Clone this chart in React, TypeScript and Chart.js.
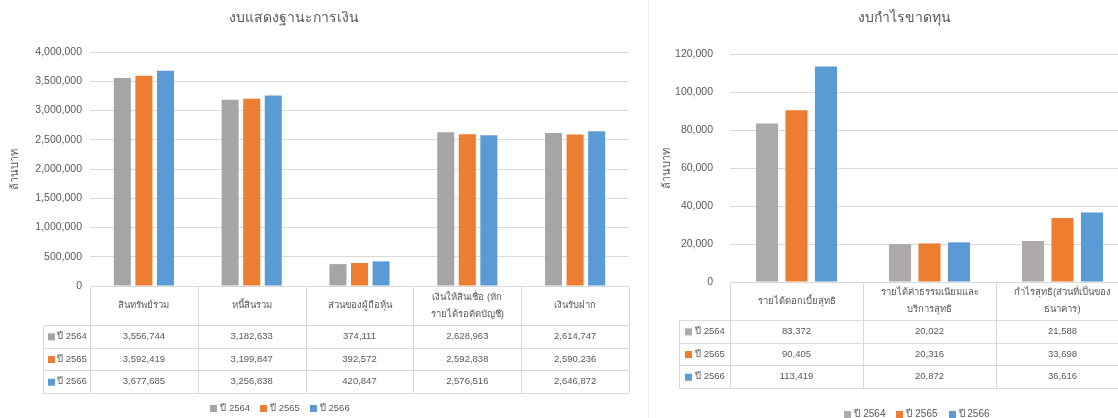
import React, { useEffect, useRef } from 'react';
import { Chart, registerables } from 'chart.js';

Chart.register(...registerables);

// ---------- data ----------
const seriesLabels = ['ปี 2564', 'ปี 2565', 'ปี 2566'];

const balanceTitle = 'งบแสดงฐานะการเงิน';
const balanceCategories = [
  ['สินทรัพย์รวม'],
  ['หนี้สินรวม'],
  ['ส่วนของผู้ถือหุ้น'],
  ['เงินให้สินเชื่อ (หัก', 'รายได้รอตัดบัญชี)'],
  ['เงินรับฝาก'],
];
const balance2564 = [3556744, 3182633, 374111, 2628963, 2614747];
const balance2565 = [3592419, 3199847, 392572, 2592838, 2590236];
const balance2566 = [3677685, 3256838, 420847, 2576516, 2646872];
const balanceTicks = [0, 500000, 1000000, 1500000, 2000000, 2500000, 3000000, 3500000, 4000000];

const incomeTitle = 'งบกำไรขาดทุน';
const incomeCategories = [
  ['รายได้ดอกเบี้ยสุทธิ'],
  ['รายได้ค่าธรรมเนียมและ', 'บริการสุทธิ'],
  ['กำไรสุทธิ(ส่วนที่เป็นของ', 'ธนาคาร)'],
];
const income2564 = [83372, 20022, 21588];
const income2565 = [90405, 20316, 33698];
const income2566 = [113419, 20872, 36616];
const incomeTicks = [0, 20000, 40000, 60000, 80000, 100000, 120000];

const yAxisTitle = 'ล้านบาท';

// ---------- styles ----------
const FONT = "'Liberation Sans', Arial, 'Noto Sans', 'DejaVu Sans', sans-serif";
const TEXT = '#595959';
const GRID = '#D9D9D9';
const ORANGE = '#ED7D31';
const BLUE = '#5B9BD5';

const fmt = (v: number) => v.toLocaleString('en-US');

const excelPlugin = {
  id: 'excelTable',
  afterDraw(chart: any, _args: any, opts: any) {
    const ctx: CanvasRenderingContext2D = chart.ctx;
    const area = chart.chartArea;
    const xs = chart.scales.x;
    const n = chart.data.labels.length;
    const binW = (area.right - area.left) / n;
    const top = area.bottom;
    const hdrBottom = top + opts.headerHeight;
    const rows = chart.data.datasets.length;
    const tableBottom = hdrBottom + rows * opts.rowHeight;
    const r = (v: number) => Math.round(v) + 0.5;
    const line = (x1: number, y1: number, x2: number, y2: number) => {
      ctx.beginPath();
      ctx.moveTo(x1, y1);
      ctx.lineTo(x2, y2);
      ctx.stroke();
    };
    ctx.save();
    ctx.strokeStyle = GRID;
    ctx.lineWidth = 1;
    line(area.left, r(top), area.right, r(top));
    for (let k = 0; k <= rows; k++) {
      const y = r(hdrBottom + k * opts.rowHeight);
      line(opts.rowLabelLeft, y, area.right, y);
    }
    for (let i = 0; i <= n; i++) {
      const x = r(area.left + i * binW);
      line(x, top, x, tableBottom);
    }
    line(r(opts.rowLabelLeft), hdrBottom, r(opts.rowLabelLeft), tableBottom);

    // header
    ctx.fillStyle = TEXT;
    ctx.textBaseline = 'middle';
    ctx.textAlign = 'center';
    ctx.font = `${opts.cellFont}px ${FONT}`;
    const mid = (top + hdrBottom) / 2;
    chart.data.labels.forEach((lab: any, i: number) => {
      const cx = xs.getPixelForValue(i);
      const lines = Array.isArray(lab) ? lab : [lab];
      lines.forEach((t: string, j: number) => {
        ctx.fillText(t, cx, mid + (j - (lines.length - 1) / 2) * opts.lineSpacing);
      });
    });

    // rows
    chart.data.datasets.forEach((ds: any, k: number) => {
      const cy = hdrBottom + (k + 0.5) * opts.rowHeight;
      ctx.fillStyle = TEXT;
      ctx.textAlign = 'center';
      ds.data.forEach((v: number, i: number) => {
        ctx.fillText(fmt(v), xs.getPixelForValue(i), cy);
      });
      ctx.fillStyle = ds.backgroundColor;
      ctx.fillRect(opts.rowLabelLeft + opts.boxOffset, cy - 3, 7, 7);
      ctx.fillStyle = TEXT;
      ctx.textAlign = 'left';
      ctx.fillText(ds.label, opts.rowLabelLeft + opts.textOffset, cy);
    });

    // title
    ctx.font = `${opts.titleFont}px ${FONT}`;
    ctx.textAlign = 'center';
    ctx.fillStyle = TEXT;
    ctx.fillText(opts.title, opts.titleX, opts.titleY);

    // legend
    ctx.font = `${opts.legendFont}px ${FONT}`;
    const items = chart.data.datasets.map((ds: any) => ({
      color: ds.backgroundColor,
      label: ds.label,
      w: 7 + 3 + ctx.measureText(ds.label).width,
    }));
    const gap = opts.legendGap;
    const total = items.reduce((s: number, it: any) => s + it.w, 0) + gap * (items.length - 1);
    let x = opts.legendX - total / 2;
    ctx.textAlign = 'left';
    items.forEach((it: any) => {
      ctx.fillStyle = it.color;
      ctx.fillRect(Math.round(x), Math.round(opts.legendY - 3), 7, 7);
      ctx.fillStyle = TEXT;
      ctx.fillText(it.label, x + 10, opts.legendY);
      x += it.w + gap;
    });
    ctx.restore();
  },
};

function makeConfig(p: any) {
  return {
    type: 'bar',
    data: {
      labels: p.categories,
      datasets: p.series.map((d: number[], i: number) => ({
        label: seriesLabels[i],
        data: d,
        backgroundColor: p.colors[i],
        categoryPercentage: p.catPct,
        barPercentage: p.barPct,
      })),
    },
    plugins: [excelPlugin],
    options: {
      responsive: false,
      animation: false,
      events: [],
      layout: { padding: p.padding },
      plugins: {
        legend: { display: false },
        title: { display: false },
        tooltip: { enabled: false },
        excelTable: p.table,
      },
      scales: {
        x: { display: false },
        y: {
          min: 0,
          max: p.ticks[p.ticks.length - 1],
          afterBuildTicks: (s: any) => {
            s.ticks = p.ticks.map((v: number) => ({ value: v }));
          },
          afterFit: (s: any) => {
            s.width = p.axisWidth;
          },
          border: { display: false },
          grid: { color: GRID, drawTicks: false, lineWidth: 1 },
          ticks: {
            color: TEXT,
            padding: p.tickPad,
            font: { family: FONT, size: 10.5 },
            callback: (v: any) => fmt(Number(v)),
          },
          title: {
            display: true,
            text: yAxisTitle,
            color: TEXT,
            font: { family: FONT, size: 11 },
            padding: { top: p.titlePad, bottom: 0 },
          },
        },
      },
    },
  };
}

function ChartCanvas({ config, width, left }: { config: any; width: number; left: number }) {
  const ref = useRef<HTMLCanvasElement | null>(null);
  useEffect(() => {
    if (!ref.current) return;
    const chart = new Chart(ref.current, config);
    return () => chart.destroy();
  }, [config]);
  return (
    <canvas
      ref={ref}
      width={width}
      height={418}
      style={{ position: 'absolute', left, top: 0, width, height: 418 }}
    />
  );
}

const balanceConfig = makeConfig({
  categories: balanceCategories,
  series: [balance2564, balance2565, balance2566],
  colors: ['#A5A5A5', ORANGE, BLUE],
  ticks: balanceTicks,
  catPct: 0.6,
  barPct: 0.79,
  padding: { top: 52, bottom: 132, left: 0, right: 11 },
  axisWidth: 90,
  tickPad: 8,
  titlePad: 8,
  table: {
    headerHeight: 39,
    rowHeight: 22.7,
    rowLabelLeft: 43,
    boxOffset: 5,
    textOffset: 14,
    cellFont: 9.5,
    lineSpacing: 17,
    title: balanceTitle,
    titleFont: 14,
    titleX: 294,
    titleY: 18,
    legendFont: 9.5,
    legendX: 280,
    legendY: 408,
    legendGap: 10,
  },
});

const incomeConfig = makeConfig({
  categories: incomeCategories,
  series: [income2564, income2565, income2566],
  colors: ['#AEAAAA', ORANGE, BLUE],
  ticks: incomeTicks,
  catPct: 0.665,
  barPct: 0.75,
  padding: { top: 54, bottom: 136, left: 0, right: 31 },
  axisWidth: 90,
  tickPad: 17,
  titlePad: 20,
  table: {
    headerHeight: 38,
    rowHeight: 22.7,
    rowLabelLeft: 39,
    boxOffset: 6,
    textOffset: 16,
    cellFont: 9.5,
    lineSpacing: 17,
    title: incomeTitle,
    titleFont: 14,
    titleX: 264,
    titleY: 18,
    legendFont: 10,
    legendX: 277,
    legendY: 414,
    legendGap: 11,
  },
});

export default function App() {
  return (
    <div
      style={{
        position: 'fixed',
        left: 0,
        top: 0,
        width: 1118,
        height: 418,
        overflow: 'hidden',
        background: '#FFFFFF',
      }}
    >
      <ChartCanvas config={balanceConfig} width={640} left={0} />
      <div style={{ position: 'absolute', left: 648, top: 0, width: 1, height: 418, background: '#F0F0F0' }} />
      <ChartCanvas config={incomeConfig} width={520} left={640} />
    </div>
  );
}
